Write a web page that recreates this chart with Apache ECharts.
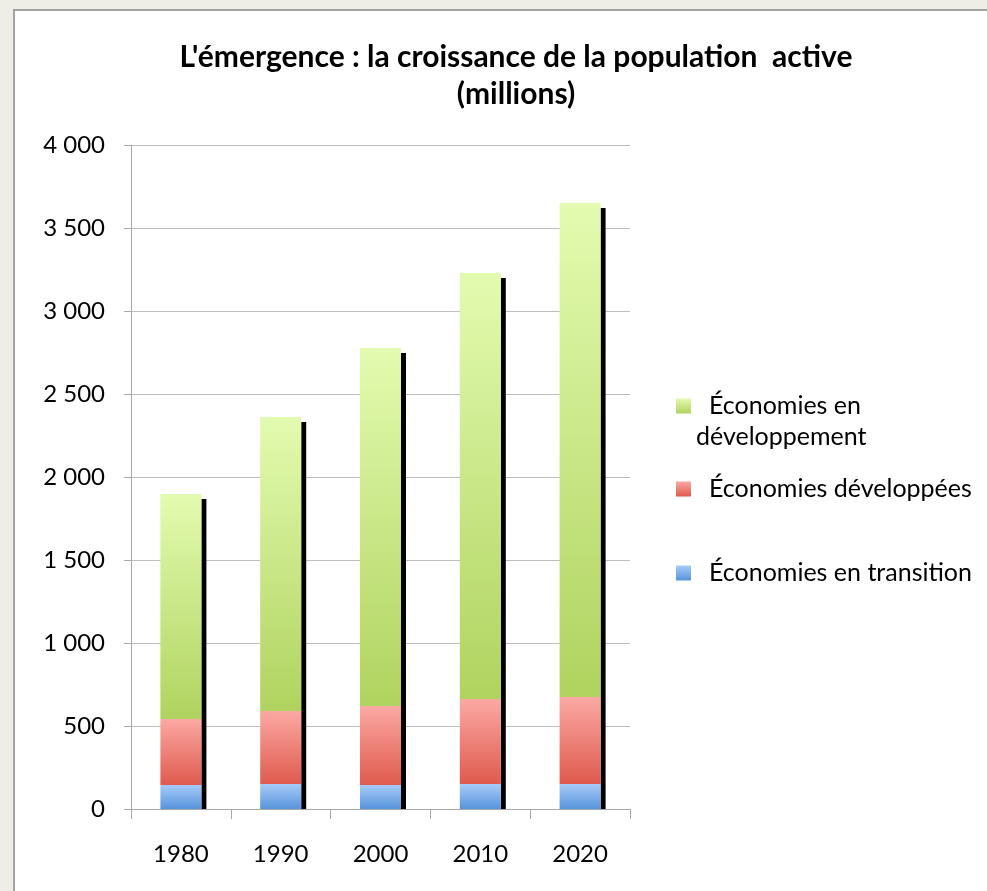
<!DOCTYPE html>
<html>
<head>
<meta charset="utf-8">
<script src="https://cdn.jsdelivr.net/npm/echarts@6/dist/echarts.min.js"></script>
<style>
  html, body { margin: 0; padding: 0; background: #efeee6; width: 987px; height: 891px; overflow: hidden; }
  #panel { position: absolute; left: 13px; top: 9px; width: 974px; height: 882px; background: #fff; border-left: 2px solid #a2a2a2; border-top: 2px solid #a2a2a2; box-sizing: border-box; }
  #chart { position: absolute; left: 0; top: 0; width: 987px; height: 891px; }
</style>
</head>
<body>
<div id="panel"></div>
<div id="chart"></div>
<script>
const years = ['1980', '1990', '2000', '2010', '2020'];
const transition = [145, 150, 145, 150, 150];
const developed = [397, 440, 475, 513, 525];
const developing = [1356, 1771, 2157, 2566, 2976];
const seriesNames = ['Économies en développement', 'Économies développées', 'Économies en transition'];
const yTicks = { min: 0, max: 4000, interval: 500 };

const totals = years.map((_, i) => transition[i] + developed[i] + developing[i]);
const FONT = 'Lato';
const BAR_W = 41;

function grad(top, bottom) {
  return new echarts.graphic.LinearGradient(0, 0, 0, 1, [
    { offset: 0, color: top }, { offset: 1, color: bottom }
  ]);
}
const cGreen = grad('#e3fbb0', '#b0d35f');
const cRed = grad('#fba9a3', '#df5a4e');
const cBlue = grad('#a7cbf8', '#5794db');

const chart = echarts.init(document.getElementById('chart'), null, { renderer: 'canvas' });

const LEG_FS = 25, LEG_LH = 31;
function legendFor(name, top, multi) {
  return {
    show: true,
    orient: 'vertical',
    left: 676,
    top: top,
    padding: 0,
    itemWidth: 15,
    itemHeight: 15,
    selectedMode: false,
    icon: 'rect',
    data: [name],
    formatter: multi ? '\n{s| }Économies en\ndéveloppement' : '{s| }' + name,
    textStyle: {
      fontFamily: FONT, fontSize: LEG_FS, color: '#000', lineHeight: LEG_LH,
      rich: { s: { width: 13, fontFamily: FONT, fontSize: LEG_FS, lineHeight: LEG_LH } }
    }
  };
}

chart.setOption({
  backgroundColor: 'transparent',
  animation: false,
  title: {
    text: "L'émergence : la croissance de la population  active\n(millions)",
    left: 511,
    top: 34,
    textAlign: 'center',
    textStyle: { fontFamily: FONT, fontSize: 30, fontWeight: 'bold', color: '#000', lineHeight: 37 }
  },
  legend: [
    legendFor(seriesNames[0], 406 - 1.5 * LEG_LH, true),
    legendFor(seriesNames[1], 489 - LEG_LH / 2, false),
    legendFor(seriesNames[2], 573 - LEG_LH / 2, false)
  ],
  grid: { left: 131, right: 357, top: 145, bottom: 82, containLabel: false },
  xAxis: {
    type: 'category',
    data: years,
    axisLine: { lineStyle: { color: '#a8a8a8', width: 1 } },
    axisTick: { show: true, length: 10, lineStyle: { color: '#a8a8a8' } },
    axisLabel: { fontFamily: FONT, fontSize: 24, color: '#000', margin: 33 }
  },
  yAxis: {
    type: 'value',
    min: yTicks.min, max: yTicks.max, interval: yTicks.interval,
    axisLine: { show: true, lineStyle: { color: '#a8a8a8', width: 1 } },
    axisTick: { show: true, length: 7, lineStyle: { color: '#a8a8a8' } },
    splitLine: { show: true, lineStyle: { color: '#bdbdbd', width: 1 } },
    axisLabel: {
      fontFamily: FONT, fontSize: 24, color: '#000', margin: 26,
      formatter: v => String(v).replace(/\B(?=(\d{3})+(?!\d))/g, ' ')
    }
  },
  series: [
    {
      type: 'custom',
      name: 'ombre',
      z: 1,
      data: years.map((y, i) => [i, totals[i]]),
      renderItem: function (params, api) {
        const top = api.coord([api.value(0), api.value(1)]);
        const base = api.coord([api.value(0), 0]);
        return {
          type: 'rect',
          shape: { x: top[0] + BAR_W / 2, y: top[1] + 5, width: 5, height: base[1] - top[1] - 5 },
          style: { fill: '#000' }
        };
      }
    },
    {
      name: seriesNames[2], type: 'bar', stack: 'total', barWidth: BAR_W, z: 2,
      itemStyle: { color: cBlue }, data: transition
    },
    {
      name: seriesNames[1], type: 'bar', stack: 'total', barWidth: BAR_W, z: 2,
      itemStyle: { color: cRed }, data: developed
    },
    {
      name: seriesNames[0], type: 'bar', stack: 'total', barWidth: BAR_W, z: 2,
      itemStyle: { color: cGreen }, data: developing
    }
  ]
});
</script>
</body>
</html>
